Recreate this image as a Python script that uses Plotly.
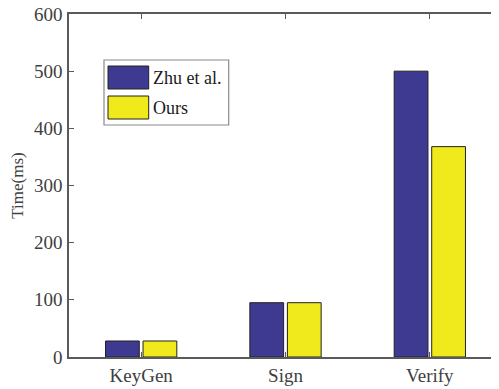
import plotly.graph_objects as go

categories = ["KeyGen", "Sign", "Verify"]
zhu_values = [28, 95, 500]
ours_values = [28, 95, 368]
series_names = ["Zhu et al.", "Ours"]
y_ticks = [0, 100, 200, 300, 400, 500, 600]

BLUE = "#3E3A92"
YELLOW = "#F0E91B"
EDGE = "#222222"
AX = "#5a5a5a"
TXT = "#262626"
FONT = "Liberation Serif, Times New Roman, serif"

OFF = 8  # page body margin
W, H = 499, 389
L, R, T, B = 69 - OFF, 5, 14 - OFF, 40
PW, PH = W - L - R, H - T - B

def px_x(px):  # page px -> paper
    return (px - OFF - L) / PW

def px_y(py):
    return (H - B - (py - OFF)) / PH

fig = go.Figure()
for name, vals, col in [(series_names[0], zhu_values, BLUE), (series_names[1], ours_values, YELLOW)]:
    fig.add_trace(go.Bar(x=categories, y=vals, name=name,
                         marker=dict(color=col, line=dict(color=EDGE, width=1)), showlegend=False))

fig.update_layout(
    template="none",
    width=W, height=H,
    margin=dict(l=L, r=R, t=T, b=B, autoexpand=False),
    plot_bgcolor="white", paper_bgcolor="white",
    barmode="group", bargap=0.48, bargroupgap=0.1,
    font=dict(family=FONT, color=TXT, size=19),
    xaxis=dict(range=[-0.5, 2.5], showline=True, linecolor=AX, linewidth=1.5, mirror="ticks",
               ticks="inside", ticklen=5, tickcolor=AX, showgrid=False, zeroline=False,
               automargin=False, ticklabeloverflow="allow",
               tickfont=dict(size=19, color="#404040"), ticklabelstandoff=0),
    yaxis=dict(range=[0, 600], tickvals=y_ticks, showline=True, linecolor=AX, linewidth=1.5,
               mirror="ticks", ticks="inside", ticklen=5, tickcolor=AX, showgrid=False, zeroline=False,
               automargin=False, ticklabeloverflow="allow",
               tickfont=dict(size=19, color="#404040"), ticklabelstandoff=1,
               title=dict(text="Time(ms)", font=dict(size=17, color="#404040"), standoff=15)),
)

# manual legend (MATLAB-style large swatches)
shapes = [
    dict(type="rect", xref="paper", yref="paper", x0=px_x(104), x1=px_x(228.7), y0=px_y(125), y1=px_y(60),
         line=dict(color="#8a8a8a", width=1.2), fillcolor="white", layer="above"),
    dict(type="rect", xref="paper", yref="paper", x0=px_x(108), x1=px_x(148.7), y0=px_y(89), y1=px_y(66),
         line=dict(color=EDGE, width=1), fillcolor=BLUE, layer="above"),
    dict(type="rect", xref="paper", yref="paper", x0=px_x(108), x1=px_x(148.7), y0=px_y(119), y1=px_y(96),
         line=dict(color=EDGE, width=1), fillcolor=YELLOW, layer="above"),
]
fig.update_layout(shapes=shapes)
for name, cy in [(series_names[0], 77.5), (series_names[1], 107.5)]:
    fig.add_annotation(xref="paper", yref="paper", x=px_x(151), y=px_y(cy), text=name, showarrow=False,
                       xanchor="left", yanchor="middle", font=dict(size=18, color="#1a1a1a", family=FONT))

fig.write_html("out.html")
